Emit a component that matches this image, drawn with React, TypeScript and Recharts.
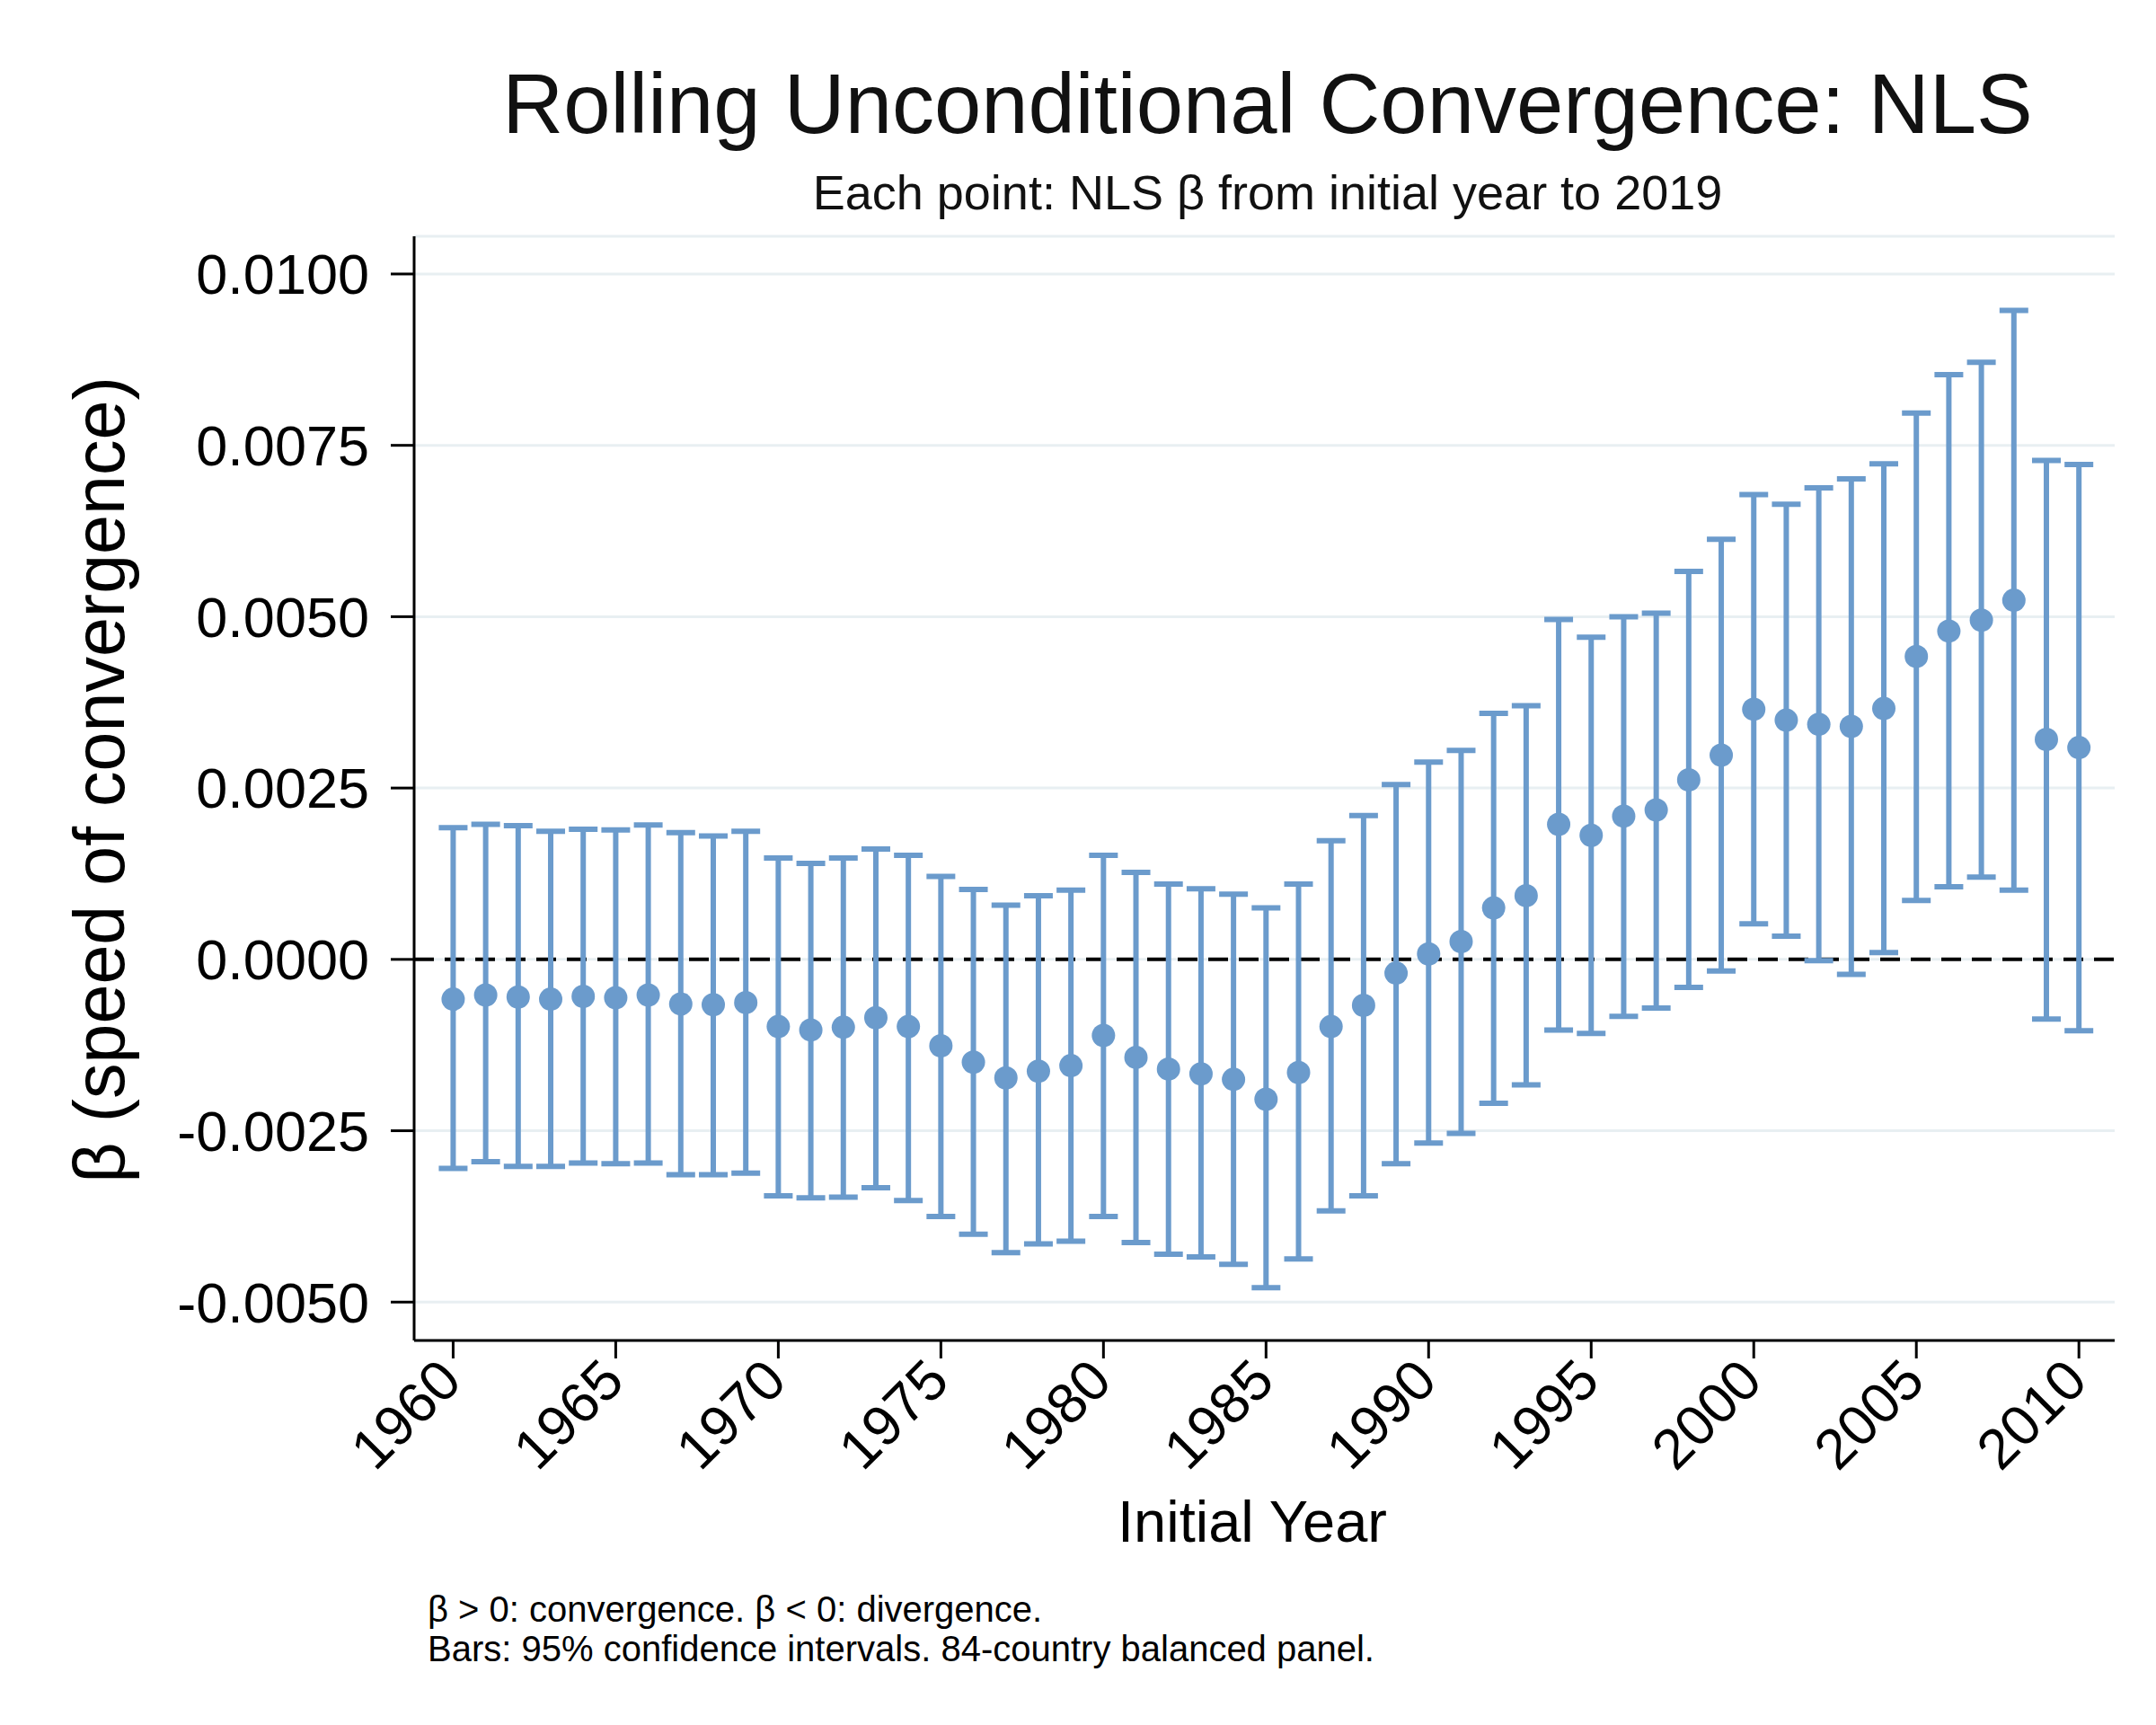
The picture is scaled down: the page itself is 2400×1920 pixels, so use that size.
import { ScatterChart, Scatter, XAxis, YAxis, CartesianGrid, ErrorBar, ReferenceLine } from 'recharts';

const years = [
  1960, 1961, 1962, 1963, 1964, 1965, 1966, 1967, 1968, 1969,
  1970, 1971, 1972, 1973, 1974, 1975, 1976, 1977, 1978, 1979,
  1980, 1981, 1982, 1983, 1984, 1985, 1986, 1987, 1988, 1989,
  1990, 1991, 1992, 1993, 1994, 1995, 1996, 1997, 1998, 1999,
  2000, 2001, 2002, 2003, 2004, 2005, 2006, 2007, 2008, 2009, 2010,
];

const beta = [
  -0.00058, -0.00052, -0.00055, -0.00058, -0.00054, -0.00056, -0.00052, -0.00065, -0.00066, -0.00063,
  -0.00098, -0.00103, -0.00099, -0.00085, -0.00098, -0.00126, -0.0015, -0.00173, -0.00163, -0.00155,
  -0.00111, -0.00143, -0.0016, -0.00167, -0.00175, -0.00204, -0.00165, -0.00098, -0.00067, -0.0002,
  0.00008, 0.00026, 0.00075, 0.00093, 0.00197, 0.00181, 0.00209, 0.00218, 0.00262, 0.00298,
  0.00365, 0.00349, 0.00343, 0.0034, 0.00366, 0.00442, 0.00479, 0.00495, 0.00524, 0.00321, 0.00309,
];

const ciHigh = [
  0.00192, 0.00197, 0.00195, 0.00187, 0.0019, 0.00189, 0.00196, 0.00185, 0.0018, 0.00187,
  0.00148, 0.0014, 0.00148, 0.00161, 0.00152, 0.00121, 0.00102, 0.00079, 0.00093, 0.00101,
  0.00152, 0.00127, 0.0011, 0.00103, 0.00095, 0.00075, 0.0011, 0.00173, 0.0021, 0.00255,
  0.00288, 0.00305, 0.00359, 0.0037, 0.00496, 0.0047, 0.005, 0.00505, 0.00566, 0.00613,
  0.00678, 0.00664, 0.00688, 0.00701, 0.00723, 0.00797, 0.00853, 0.00871, 0.00947, 0.00728, 0.00722,
];

const ciLow = [
  -0.00305, -0.00295, -0.00302, -0.00302, -0.00297, -0.00298, -0.00297, -0.00314, -0.00314, -0.00312,
  -0.00345, -0.00348, -0.00347, -0.00333, -0.00352, -0.00375, -0.00401, -0.00428, -0.00415, -0.00411,
  -0.00375, -0.00413, -0.0043, -0.00434, -0.00445, -0.00479, -0.00437, -0.00367, -0.00345, -0.00298,
  -0.00268, -0.00254, -0.0021, -0.00183, -0.00103, -0.00108, -0.00083, -0.00071, -0.00041, -0.00017,
  0.00052, 0.00034, -0.00002, -0.00022, 0.0001, 0.00086, 0.00106, 0.0012, 0.00101, -0.00087, -0.00104,
];

const xTicks = [1960, 1965, 1970, 1975, 1980, 1985, 1990, 1995, 2000, 2005, 2010];
const yTicks = [-0.005, -0.0025, 0, 0.0025, 0.005, 0.0075, 0.01];

const blue = '#6b9bcc';
const font = '"Liberation Sans", Arial, Helvetica, sans-serif';

const data = years.map((year, i) => ({
  year,
  beta: beta[i],
  err: [beta[i] - ciLow[i], ciHigh[i] - beta[i]],
}));

const Dot = (p: any) => <circle cx={p.cx} cy={p.cy} r={13} fill={blue} />;

const YearTick = (p: any) => (
  <text
    x={p.x + 12}
    y={p.y + 28}
    transform={`rotate(-45, ${p.x + 12}, ${p.y + 28})`}
    textAnchor="end"
    fontSize={63}
    fill="#000"
  >
    {p.payload.value}
  </text>
);

export default function App() {
  return (
    <div style={{ position: 'absolute', left: 0, top: 0, width: 2400, height: 1920, background: '#fff', fontFamily: font }}>
      <ScatterChart width={2400} height={1920} margin={{ top: 263, right: 46, bottom: 228, left: 261 }}>
        <CartesianGrid horizontal vertical={false} stroke="#e8eff2" strokeWidth={3} />
        <XAxis
          type="number"
          dataKey="year"
          domain={[1958.8, 2011.1]}
          ticks={xTicks}
          allowDataOverflow
          height={200}
          tickSize={20}
          tickMargin={0}
          axisLine={{ stroke: '#000', strokeWidth: 3 }}
          tickLine={{ stroke: '#000', strokeWidth: 3 }}
          tick={<YearTick />}
        />
        <YAxis
          type="number"
          dataKey="beta"
          domain={[-0.00556, 0.01055]}
          ticks={yTicks}
          allowDataOverflow
          width={200}
          tickSize={26}
          tickMargin={24}
          axisLine={{ stroke: '#000', strokeWidth: 3 }}
          tickLine={{ stroke: '#000', strokeWidth: 3 }}
          tick={{ fontSize: 63, fill: '#000' }}
          tickFormatter={(v: number) => v.toFixed(4)}
        />
        <ReferenceLine y={0} stroke="#000" strokeWidth={4} strokeDasharray="22 12" />
        <Scatter data={data} shape={<Dot />} isAnimationActive={false}>
          <ErrorBar dataKey="err" direction="y" width={16} stroke={blue} strokeWidth={6} />
        </Scatter>
      </ScatterChart>
      <svg width={2400} height={1920} style={{ position: 'absolute', left: 0, top: 0, pointerEvents: 'none' }}>
        <text x={1411} y={148} textAnchor="middle" fontSize={94} fill="#111">
          Rolling Unconditional Convergence: NLS
        </text>
        <text x={1411} y={233} textAnchor="middle" fontSize={54} fill="#111">
          Each point: NLS β from initial year to 2019
        </text>
        <text x={138} y={868} textAnchor="middle" fontSize={79} fill="#000" transform="rotate(-90, 138, 868)">
          β (speed of convergence)
        </text>
        <text x={1394} y={1716} textAnchor="middle" fontSize={65} fill="#000">
          Initial Year
        </text>
        <text x={476} y={1805} fontSize={40} fill="#000">
          β &gt; 0: convergence. β &lt; 0: divergence.
        </text>
        <text x={476} y={1849} fontSize={40} fill="#000">
          Bars: 95% confidence intervals. 84-country balanced panel.
        </text>
      </svg>
    </div>
  );
}
